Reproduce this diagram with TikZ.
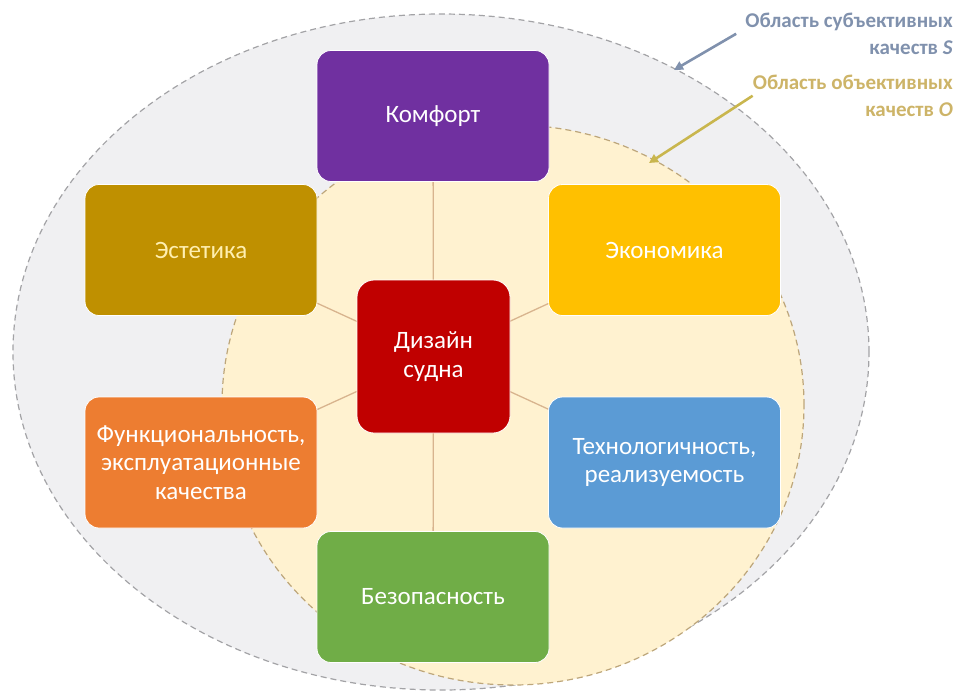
\documentclass[tikz,border=0pt]{standalone}
\usepackage{fontspec}
\setmainfont{Carlito}
\usetikzlibrary{arrows.meta}
\pgfdeclarelayer{back}
\pgfdeclarelayer{links}
\pgfsetlayers{back,links,main}
\definecolor{komfortc}{HTML}{7030A0}
\definecolor{estetikac}{HTML}{BF9000}
\definecolor{estetikatext}{HTML}{FFEFB0}
\definecolor{ekonomikac}{HTML}{FFC000}
\definecolor{dizainc}{HTML}{C00000}
\definecolor{funkcc}{HTML}{ED7D31}
\definecolor{tehnoc}{HTML}{5B9BD5}
\definecolor{bezopc}{HTML}{70AD47}
\definecolor{outerfill}{HTML}{F0F0F2}
\definecolor{outerline}{HTML}{A3A3A6}
\definecolor{innerfill}{HTML}{FFF2D0}
\definecolor{innerline}{HTML}{BDA67A}
\definecolor{linkc}{HTML}{D8B48E}
\definecolor{subjc}{HTML}{8091AD}
\definecolor{objc}{HTML}{CDB468}
\definecolor{objarrow}{HTML}{C9B64E}

\begin{document}
\begin{tikzpicture}[x=1pt,y=-1pt]
\tikzstyle{box}=[rectangle,rounded corners=14pt,draw=white,line width=0.8pt,minimum width=232pt,minimum height=131pt,text=white,align=center,font=\fontsize{25}{28.5}\selectfont]
\tikzstyle{hub}=[box,minimum width=153pt,minimum height=153pt,rounded corners=17pt]
\tikzstyle{link}=[draw=linkc,line width=1.3pt]
\tikzstyle{note}=[align=right,inner sep=0pt,font=\bfseries\fontsize{21}{26.5}\selectfont]
\tikzstyle{pointer}=[line width=2.6pt,-{Triangle[length=9pt,width=9pt]}]

\useasboundingbox (0,0) rectangle (964,691);

% the two areas
\begin{pgfonlayer}{back}
\draw[draw=outerline,fill=outerfill,line width=1.2pt,dash pattern=on 6pt off 4pt] (441,352) ellipse [x radius=428pt, y radius=338pt];
\draw[draw=innerline,fill=innerfill,line width=1.2pt,dash pattern=on 6pt off 4pt] (513,405) ellipse [x radius=291pt, y radius=280pt];
\end{pgfonlayer}

% the qualities
\node[box,fill=komfortc] (komfort) at (433,116) {Комфорт};
\node[box,fill=estetikac,text=estetikatext] (estetika) at (201,250) {Эстетика};
\node[box,fill=ekonomikac] (ekonomika) at (664.5,250) {Экономика};
\node[hub,fill=dizainc] (dizain) at (433.5,356.5) {Дизайн\\судна};
\node[box,fill=funkcc] (funkc) at (201,462.5) {Функциональность,\\эксплуатационные\\качества};
\node[box,fill=tehnoc] (tehno) at (664.5,462.5) {Технологичность,\\реализуемость};
\node[box,fill=bezopc] (bezop) at (433,597) {Безопасность};

\begin{pgfonlayer}{links}
\foreach \n in {komfort,estetika,ekonomika,funkc,tehno,bezop}
{
  \draw[link] (dizain.center) -- (\n.center);
}
\end{pgfonlayer}

% labels of the areas
\node[note,text=subjc,anchor=north east] (subj) at (953,13) {Область субъективных\\качеств \textit{S}};
\node[note,text=objc,anchor=north east] (obj) at (953,75) {Область объективных\\качеств \textit{O}};

\coordinate (subjtip) at (674,70);
\coordinate (objtip) at (649,163);

\draw[pointer,draw=subjc] ([xshift=-9pt]subj.west) -- (subjtip);
\draw[pointer,draw=objarrow] (obj.west) -- (objtip);

\end{tikzpicture}
\end{document}
